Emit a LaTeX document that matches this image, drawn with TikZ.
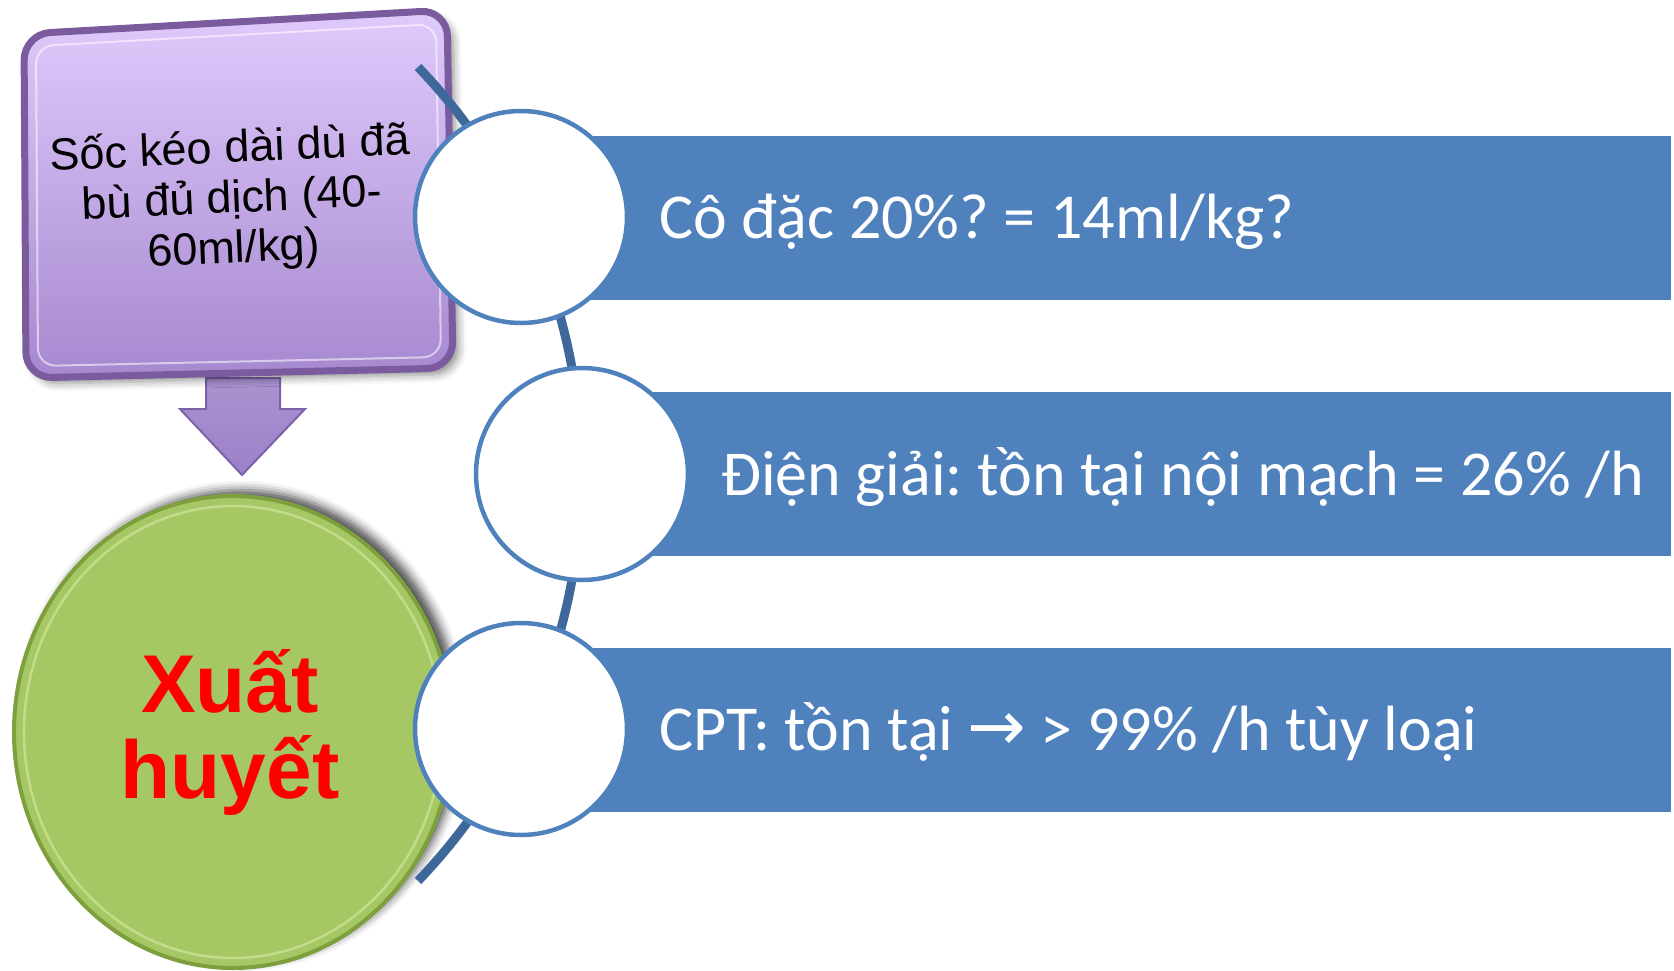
\documentclass[tikz,border=0pt]{standalone}
\usepackage{fontspec}
\setmainfont{Liberation Sans}
\newfontfamily\barfont{Carlito}
\newfontfamily\symfont{DejaVu Sans}
\usetikzlibrary{shadows.blur}
\frenchspacing

\definecolor{barblue}{HTML}{4F81BD}
\definecolor{arcblue}{HTML}{3D6899}
\definecolor{boxtop}{HTML}{E0CAFC}
\definecolor{boxbot}{HTML}{A688CF}
\definecolor{boxedge}{HTML}{7A5B9E}
\definecolor{arrowfill}{HTML}{9C80C8}
\definecolor{arrowedge}{HTML}{7D62AA}
\definecolor{greenfill}{HTML}{A6C864}
\definecolor{greenedge}{HTML}{7E9F3E}
\definecolor{greenlight}{HTML}{C9E295}

\tikzset{
  stage/.style={circle, draw=barblue, line width=4.5pt, fill=white,
    minimum size=212pt, inner sep=0pt},
  barstrip/.style={fill=barblue},
  bartext/.style={anchor=base west, text=white, inner sep=0pt,
    font=\barfont\fontsize{64}{70}\selectfont},
  link/.style={draw=arcblue, line width=9pt},
}

\begin{document}
\begin{tikzpicture}[x=1pt,y=-1pt]
\useasboundingbox (0,0) rectangle (1674,970);

% block arrow from the shock box down to the bleeding disc
\path[top color=arrowfill!85!white, bottom color=arrowfill, draw=arrowedge, line width=2pt]
  (206,378) -- (280,378) -- (280,409) -- (305,409) -- (242,475)
  -- (180,409) -- (206,409) -- cycle;

% purple bevelled box
\path[blur shadow={shadow xshift=6pt, shadow yshift=-6pt, shadow blur radius=8pt, shadow opacity=45},
  top color=boxtop, bottom color=boxbot, draw=boxedge, line width=7pt, rounded corners=26pt]
  (25,200) -- (24,34) -- (447,10) -- (453,368) -- (26,378) -- cycle;
\draw[white, opacity=.55, line width=2pt, rounded corners=18pt]
  (37,200) -- (36,46) -- (436,24) -- (441,357) -- (38,366) -- cycle;
\node[font=\fontsize{45}{50}\selectfont, align=center, rotate=2.5] (shock)
  at (232,200) {Sốc kéo dài dù đã\\bù đủ dịch (40-\\60ml/kg)};

% green disc
\path[blur shadow={shadow xshift=8pt, shadow yshift=6pt, shadow blur radius=9pt, shadow opacity=70},
  fill=greenfill, draw=greenedge, line width=4pt]
  (233,732) ellipse[x radius=219, y radius=236];
\draw[greenlight, line width=2.5pt, opacity=.8]
  (233,732) ellipse[x radius=209, y radius=226];
\node[font=\bfseries\fontsize{82}{86}\selectfont, text=red, align=center] (bleed)
  at (230,732) {Xuất\\huyết};

% blue strips
\path[barstrip] (521,136) rectangle (1671,300);
\path[barstrip] (582,392) rectangle (1671,556);
\path[barstrip] (521,648) rectangle (1671,812);

% spine through the three stages
\coordinate (spineTop) at (418,67);
\draw[link] (spineTop) arc[start angle=-43.8, end angle=43.8, radius=588];

% stage circles
\node[stage] (s1) at (521,217) {};
\node[stage] (s2) at (582,474) {};
\node[stage] (s3) at (521,729) {};

% strip labels
\node[bartext] (t1) at (659,238) {Cô đặc 20\%? = 14ml/kg?};
\node[bartext] (t2) at (721,495) {Điện giải: tồn tại nội mạch = 26\% /h};
\node[bartext] (t3) at (659,750) {CPT: tồn tại {\symfont\fontsize{70}{70}\selectfont →} > 99\% /h tùy loại};
\end{tikzpicture}
\end{document}
